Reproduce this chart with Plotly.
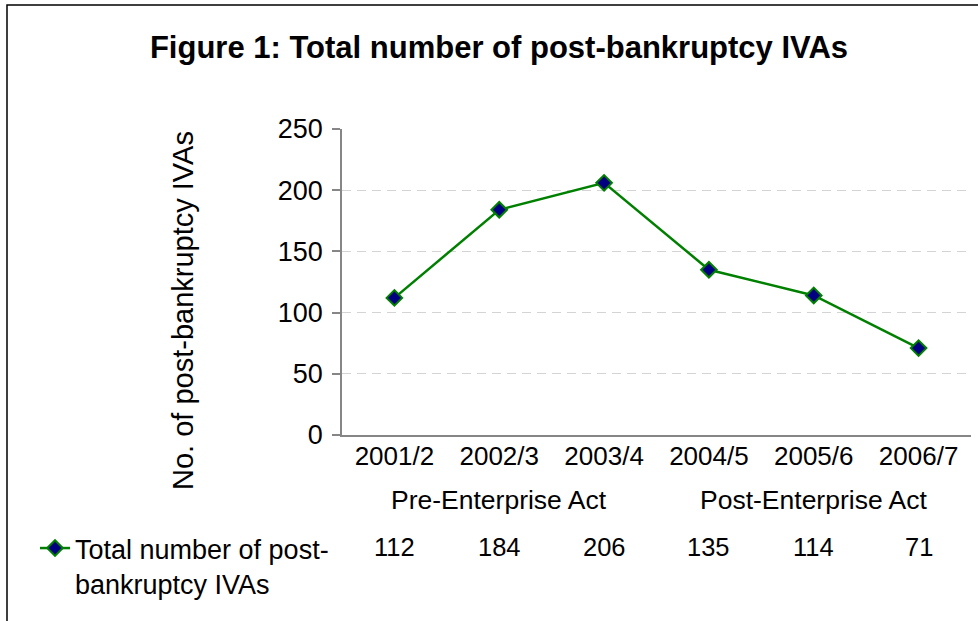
import plotly.graph_objects as go

# Financial years and the total number of post-bankruptcy IVAs in each
years = ["2001/2", "2002/3", "2003/4", "2004/5", "2005/6", "2006/7"]
totals = [112, 184, 206, 135, 114, 71]

# Second-level grouping of the years
groups = ["Pre-Enterprise Act", "Post-Enterprise Act"]
group_sizes = [3, 3]

series_name = "Total number of post-<br>bankruptcy IVAs"
y_ticks = [0, 50, 100, 150, 200, 250]

W, H = 978, 621
FONT = "Liberation Sans, Arial, sans-serif"
GREEN = "#008000"
NAVY = "#000080"
AXIS = "#868686"


def px_x(p):
    return p / W


def px_y(p):
    return 1 - p / H


xs = list(range(len(years)))

fig = go.Figure()
fig.add_trace(go.Scatter(
    x=xs, y=totals, mode="lines+markers", name=series_name,
    line=dict(color=GREEN, width=2.5),
    marker=dict(symbol="diamond", size=12, color=NAVY,
                line=dict(color=GREEN, width=2)),
))

annotations = []
# group labels centred under their years
start = 0
for name, n in zip(groups, group_sizes):
    annotations.append(dict(
        x=start + (n - 1) / 2, xref="x", y=px_y(500), yref="paper",
        text=name, showarrow=False, font=dict(size=26.5, color="black", family=FONT),
        xanchor="center", yanchor="middle"))
    start += n

# data table row
for xi, v in zip(xs, totals):
    annotations.append(dict(
        x=xi, xref="x", y=px_y(547), yref="paper", text=str(v), showarrow=False,
        font=dict(size=25.5, color="black", family=FONT),
        xanchor="center", yanchor="middle"))

# value-axis title
annotations.append(dict(
    x=px_x(183), xref="paper", y=px_y(311), yref="paper",
    text="No. of post-bankruptcy IVAs", textangle=-90, showarrow=False,
    font=dict(size=29, color="black", family=FONT),
    xanchor="center", yanchor="middle"))

fig.update_layout(
    width=W, height=H,
    margin=dict(l=0, r=0, t=0, b=0),
    paper_bgcolor="white", plot_bgcolor="white",
    font=dict(family=FONT, size=26, color="black"),
    title=dict(text="<b>Figure 1: Total number of post-bankruptcy IVAs</b>",
               x=px_x(499), xanchor="center", y=px_y(47), yanchor="middle",
               font=dict(size=31, family=FONT, color="black")),
    xaxis=dict(
        domain=[px_x(342), px_x(971)], range=[-0.5, len(years) - 0.5],
        tickmode="array", tickvals=xs, ticktext=years,
        showgrid=False, zeroline=False, showline=True, linecolor=AXIS, linewidth=1.5,
        ticks="", ticklabelstandoff=-3,
        tickfont=dict(size=26, family=FONT, color="black"),
        automargin=False, fixedrange=True,
    ),
    yaxis=dict(
        domain=[px_y(435), px_y(129)], range=[0, 250],
        tickmode="array", tickvals=y_ticks,
        showgrid=True, gridcolor="#d4d4d4", griddash="9px,6px", gridwidth=1,
        zeroline=False, showline=True, linecolor=AXIS, linewidth=1.5,
        ticks="outside", ticklen=8, tickcolor=AXIS, tickwidth=1.5,
        ticklabelstandoff=4,
        tickfont=dict(size=27, family=FONT, color="black"),
        automargin=False, fixedrange=True,
    ),
    showlegend=True,
    legend=dict(x=px_x(35), y=px_y(524), xanchor="left", yanchor="top",
                valign="top", bgcolor="rgba(0,0,0,0)",
                font=dict(size=27, family=FONT, color="black")),
    annotations=annotations,
    shapes=[dict(type="rect", xref="paper", yref="paper",
                 x0=px_x(7), x1=px_x(W + 20), y0=px_y(H + 20), y1=px_y(5),
                 line=dict(color="black", width=1.5), fillcolor="rgba(0,0,0,0)")],
)

fig.write_html("out.html")
